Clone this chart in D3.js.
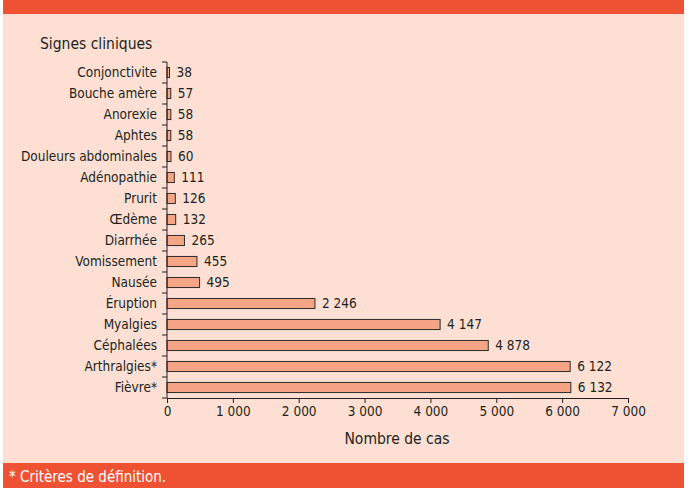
<!DOCTYPE html>
<html>
<head>
<meta charset="utf-8">
<script src="https://cdn.jsdelivr.net/npm/d3@7"></script>
<style>
  body { margin: 0; background: #fff; }
  svg { display: block; }
</style>
</head>
<body>
<div id="chart"></div>
<script>
const signes = ["Conjonctivite", "Bouche amère", "Anorexie", "Aphtes", "Douleurs abdominales",
    "Adénopathie", "Prurit", "Œdème", "Diarrhée", "Vomissement", "Nausée",
    "Éruption", "Myalgies", "Céphalées", "Arthralgies*", "Fièvre*"];
const cas = [38, 57, 58, 58, 60, 111, 126, 132, 265, 455, 495, 2246, 4147, 4878, 6122, 6132];
const xTicks = [0, 1000, 2000, 3000, 4000, 5000, 6000, 7000];

const W = 689, H = 488;
const font = '"Liberation Sans Narrow", "DejaVu Sans Condensed", sans-serif';
const fmt = v => d3.format(",")(v).replace(/,/g, " ");

const svg = d3.select("#chart").append("svg")
    .attr("width", W).attr("height", H)
    .style("font-family", font);

// panel + orange bands
svg.append("rect").attr("x", 3).attr("y", 0).attr("width", 681).attr("height", H).attr("fill", "#fde0d3");
svg.append("rect").attr("x", 3).attr("y", 0).attr("width", 681).attr("height", 14).attr("fill", "#ef5133");
svg.append("rect").attr("x", 3).attr("y", 463).attr("width", 681).attr("height", 25).attr("fill", "#ef5133");

svg.append("text").attr("x", 9).attr("y", 482)
    .attr("fill", "#fff").style("font-size", "15px")
    .text("* Critères de définition.");

const x = d3.scaleLinear().domain([0, 7000]).range([167, 628]);
const y = d3.scaleBand().domain(signes).range([62, 398]).paddingInner(0.52).paddingOuter(0.26);

// bars
svg.selectAll(".bar").data(signes).enter().append("rect")
    .attr("x", x(0))
    .attr("y", d => y(d))
    .attr("width", (d, i) => x(cas[i]) - x(0))
    .attr("height", y.bandwidth())
    .attr("fill", "#f5a586")
    .attr("stroke", "#2b2b2b")
    .attr("stroke-width", 1);

svg.selectAll(".val").data(signes).enter().append("text")
    .attr("x", (d, i) => x(cas[i]) + 7)
    .attr("y", d => y(d) + y.bandwidth() / 2)
    .attr("dy", "0.36em")
    .attr("fill", "#231f20")
    .style("font-size", "13.5px")
    .text((d, i) => fmt(cas[i]));

// y axis: ticks at band boundaries
const yAxis = svg.append("g");
yAxis.append("line").attr("x1", x(0)).attr("x2", x(0)).attr("y1", 62).attr("y2", 398)
    .attr("stroke", "#231f20");
d3.range(signes.length + 1).forEach(i => {
    const yy = 62 + i * (336 / signes.length);
    yAxis.append("line").attr("x1", x(0) - 5).attr("x2", x(0)).attr("y1", yy).attr("y2", yy)
        .attr("stroke", "#231f20");
});
yAxis.selectAll("text").data(signes).enter().append("text")
    .attr("x", x(0) - 10)
    .attr("y", d => y(d) + y.bandwidth() / 2)
    .attr("dy", "0.36em")
    .attr("text-anchor", "end")
    .attr("fill", "#231f20")
    .style("font-size", "13.5px")
    .text(d => d);

// x axis
const xAxis = svg.append("g").attr("transform", "translate(0,398)")
    .call(d3.axisBottom(x).tickValues(xTicks).tickSize(5).tickPadding(3).tickFormat(fmt));
xAxis.select(".domain").attr("stroke", "#231f20");
xAxis.selectAll(".tick line").attr("stroke", "#231f20");
xAxis.selectAll(".tick text").attr("fill", "#231f20")
    .style("font-size", "13.5px").style("font-family", font);

svg.append("text").attr("x", 397).attr("y", 444)
    .attr("text-anchor", "middle").attr("fill", "#231f20")
    .style("font-size", "15.5px")
    .text("Nombre de cas");

svg.append("text").attr("x", 40).attr("y", 49)
    .attr("fill", "#231f20")
    .style("font-size", "15.5px")
    .text("Signes cliniques");
</script>
</body>
</html>
